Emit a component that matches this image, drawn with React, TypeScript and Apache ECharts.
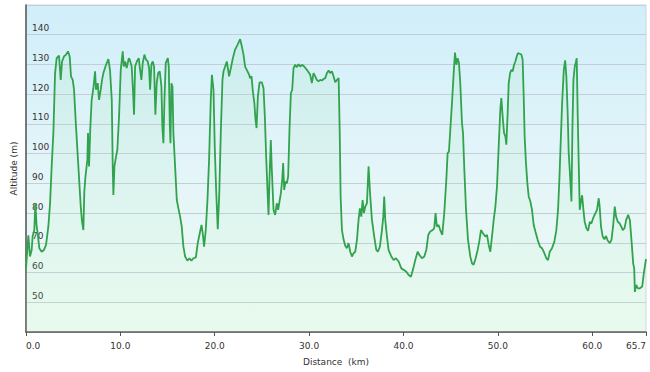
import React, { useEffect, useRef } from "react";
import * as echarts from "echarts";

const distanceKm: number[] = [
  0, 0.25, 0.42, 0.6, 0.7, 0.88, 0.99, 1.13, 1.24, 1.41, 1.66, 1.9, 2.12, 2.37, 2.55, 2.72, 2.9, 3.08, 3.25, 3.5,
  3.68, 3.82, 4.03, 4.24, 4.45, 4.63, 4.77, 4.95, 5.09, 5.3, 5.55, 5.8, 5.94, 6.08, 6.18, 6.3, 6.5, 6.57, 6.68, 6.82,
  6.96, 7.14, 7.32, 7.42, 7.6, 7.74, 7.92, 8.06, 8.2, 8.48, 8.73, 8.9, 9.09, 9.19, 9.26, 9.37, 9.54, 9.68, 9.86, 10.04,
  10.25, 10.36, 10.5, 10.67, 10.89, 11.0, 11.2, 11.35, 11.45, 11.56, 11.74, 11.95, 12.09, 12.23, 12.37, 12.55, 12.72, 12.9, 13.04, 13.15,
  13.29, 13.43, 13.57, 13.71, 13.85, 14.0, 14.17, 14.35, 14.45, 14.56, 14.67, 14.81, 15.03, 15.13, 15.24, 15.31, 15.41, 15.52, 15.62, 15.8,
  15.98, 16.15, 16.33, 16.5, 16.68, 16.86, 17.1, 17.32, 17.53, 17.74, 18.0, 18.2, 18.38, 18.6, 18.73, 18.87, 19.05, 19.23, 19.4, 19.58,
  19.7, 19.87, 20.0, 20.15, 20.32, 20.47, 20.65, 20.82, 20.93, 21.1, 21.28, 21.42, 21.52, 21.71, 21.92, 22.16, 22.41, 22.69, 22.87, 23.05,
  23.22, 23.47, 23.65, 23.75, 23.9, 24.04, 24.2, 24.32, 24.43, 24.57, 24.75, 24.99, 25.17, 25.31, 25.45, 25.59, 25.7, 25.8, 25.94, 26.05,
  26.23, 26.4, 26.58, 26.72, 26.86, 27.01, 27.15, 27.25, 27.36, 27.5, 27.64, 27.78, 27.92, 28.07, 28.21, 28.35, 28.53, 28.7, 28.88, 29.06,
  29.24, 29.48, 29.77, 29.87, 30.12, 30.29, 30.47, 30.65, 30.82, 31.0, 31.18, 31.36, 31.53, 31.71, 31.89, 32.07, 32.24, 32.42, 32.59, 32.77,
  32.95, 33.13, 33.24, 33.34, 33.48, 33.66, 33.83, 34.0, 34.18, 34.36, 34.54, 34.71, 34.89, 35.07, 35.24, 35.38, 35.53, 35.67, 35.81, 35.95,
  36.13, 36.3, 36.48, 36.66, 36.9, 37.12, 37.29, 37.5, 37.72, 37.86, 37.96, 38.07, 38.25, 38.42, 38.71, 38.96, 39.2, 39.49, 39.77, 40.02,
  40.3, 40.55, 40.79, 41.0, 41.25, 41.5, 41.7, 41.95, 42.21, 42.42, 42.63, 42.84, 43.09, 43.26, 43.4, 43.54, 43.72, 43.9, 44.11, 44.32,
  44.54, 44.68, 44.82, 44.96, 45.14, 45.32, 45.46, 45.6, 45.74, 45.88, 46.02, 46.2, 46.31, 46.45, 46.63, 46.84, 47.08, 47.26, 47.43, 47.65,
  47.86, 48.03, 48.21, 48.42, 48.67, 48.85, 49.03, 49.2, 49.38, 49.56, 49.74, 49.91, 50.09, 50.26, 50.37, 50.51, 50.66, 50.8, 50.9, 51.04,
  51.15, 51.3, 51.43, 51.57, 51.72, 51.86, 52.0, 52.14, 52.32, 52.5, 52.63, 52.74, 52.84, 52.98, 53.13, 53.27, 53.45, 53.62, 53.8, 53.98,
  54.22, 54.47, 54.68, 54.93, 55.14, 55.32, 55.5, 55.74, 55.99, 56.2, 56.38, 56.52, 56.67, 56.81, 56.99, 57.13, 57.26, 57.4, 57.51, 57.62,
  57.8, 57.9, 58.01, 58.15, 58.25, 58.36, 58.46, 58.57, 58.68, 58.78, 58.93, 59.07, 59.2, 59.38, 59.56, 59.74, 59.91, 60.12, 60.34, 60.51,
  60.69, 60.79, 60.93, 61.11, 61.29, 61.47, 61.64, 61.86, 62.04, 62.21, 62.39, 62.53, 62.71, 62.89, 63.07, 63.24, 63.42, 63.6, 63.81, 63.99,
  64.16, 64.34, 64.45, 64.52, 64.66, 64.84, 65.05, 65.3, 65.47, 65.7,
];

const altitudeM: number[] = [
  61.4, 72.5, 65.4, 67.6, 72.1, 74.3, 83.3, 75.5, 73.2, 68.2, 67, 67.6, 69.3, 75.5, 83.3, 95.7, 106.9, 127, 132.1, 133,
  124.8, 131, 132.7, 133.3, 134.4, 132.7, 126, 124.8, 121.5, 109.1, 95.7, 82.2, 77.1, 74.3, 87.3, 92.3, 97.9, 106.9, 95.7, 109.1,
  118.1, 122, 127.7, 121.5, 123.7, 118.1, 121.5, 124.8, 127.1, 129.9, 131.8, 128.2, 118.1, 95.7, 86.1, 95.7, 99, 101.3, 112.5, 128.2,
  134.4, 129.3, 131, 128.8, 132.1, 131.6, 129.3, 120.4, 113.1, 129.3, 131, 132.1, 128.2, 124.8, 130.5, 133.3, 131.6, 131, 128.8, 121.5,
  130, 131, 129.3, 113.1, 123.7, 127.1, 127.7, 122.6, 109.1, 103.5, 118.1, 130.5, 132.1, 129.3, 109.1, 103.5, 123.7, 122.6, 106.9, 95.7,
  84.4, 81.6, 78.8, 75.5, 68.7, 65.4, 64, 64.8, 64, 64.8, 65.1, 69.9, 72.7, 76, 73.2, 68.7, 74.3, 84.4, 97.9, 118.1,
  126.5, 121.5, 102.4, 87.8, 74.6, 85.6, 108, 124.8, 127.7, 129.3, 131, 128.2, 126, 128.8, 132.1, 135, 136.6, 138.5, 136.1, 133.3,
  129.3, 127.7, 126.5, 125.4, 126, 120.9, 117, 111.4, 108.6, 119.2, 124, 124, 122, 112.5, 99, 87.8, 79.4, 91.2, 104.6, 94.5,
  81.1, 79.4, 83.3, 81.1, 83.9, 86.7, 91.2, 96.8, 87.8, 90.6, 90, 92.3, 108, 120.4, 121.5, 128.8, 129.9, 129.1, 130.1, 129.3,
  129.9, 129.3, 128.2, 127.7, 126.5, 123.7, 127.1, 126, 124.8, 124.3, 124.8, 124.6, 125.1, 125.4, 127.1, 128, 127.1, 127.7, 126, 124,
  124.8, 125.4, 108, 85.6, 74.3, 71, 69, 68.2, 69.9, 67, 65.4, 66.5, 67, 71, 77.7, 81.6, 78.8, 84.4, 80, 82.2,
  83.3, 95.7, 85.6, 77.7, 72.1, 67.6, 67, 68.7, 74.3, 78.8, 85.6, 77.7, 72.1, 67.6, 65.4, 64.2, 64.8, 63.7, 61.4, 60.9,
  60.3, 59.2, 58.6, 60.9, 64.2, 67, 65.9, 64.8, 65.4, 67.6, 72.7, 73.8, 74.3, 74.9, 80, 75.5, 76, 74.3, 72.7, 80,
  91.2, 100.2, 100.7, 108, 117, 127.1, 134, 129.9, 132.1, 130.5, 123.7, 110.3, 106.9, 94.5, 81.1, 71, 65.4, 63.1, 62.6, 64.8,
  67.6, 70.4, 74.3, 73.2, 72.1, 72.7, 69.3, 67, 72.1, 77.7, 82.2, 89, 102.4, 114.7, 118.7, 112.5, 106.9, 105.8, 103, 113.6,
  123.7, 127.1, 128.2, 127.7, 129.9, 131, 132.7, 133.8, 133.6, 133.3, 131.6, 119.2, 105.8, 96.8, 90, 85.6, 83.9, 81.1, 76, 73.8,
  71, 68.7, 68.2, 66.5, 64.8, 64.2, 67, 68.2, 70.4, 74.3, 81.1, 91.2, 104.6, 117, 128.2, 131.4, 126, 113.6, 100.2, 94.5,
  83.9, 108, 124.8, 129.3, 130.5, 132.1, 113.6, 96.8, 81.1, 83.3, 86, 81.1, 77.1, 75, 74, 77, 76.5, 78.5, 80, 81.1,
  85, 82.2, 75.5, 72.1, 71.2, 72.3, 70.8, 69.9, 71, 75.5, 82.2, 78.8, 77.1, 76.6, 75.5, 74.3, 74.9, 77.7, 79.4, 77.7,
  71, 63.1, 61.4, 53.5, 55.8, 54.7, 54.7, 55.3, 59.8, 64.5,
];

const xTickValues: number[] = [0, 10, 20, 30, 40, 50, 60, 65.7];
const yLabelValues: number[] = [50, 60, 70, 80, 90, 100, 110, 120, 130, 140];

const FONT = "DejaVu Sans";

export default function App() {
  const ref = useRef<HTMLDivElement>(null);

  useEffect(() => {
    if (!ref.current) return;
    const chart = echarts.init(ref.current, null, { renderer: "svg" });
    const data = distanceKm.map((d, i) => [d, altitudeM[i]]);

    chart.setOption({
      animation: false,
      backgroundColor: "#ffffff",
      grid: {
        left: 26,
        right: 4,
        top: 5,
        bottom: 40,
        containLabel: false,
        outerBoundsMode: "none",
        show: true,
        borderColor: "#cfd6d9",
        borderWidth: 1,
        backgroundColor: new echarts.graphic.LinearGradient(0, 0, 0, 1, [
          { offset: 0, color: "#d0eefa" },
          { offset: 0.5, color: "#e4f5f9" },
          { offset: 1, color: "#eefbf1" },
        ]),
      },
      xAxis: {
        type: "value",
        min: 0,
        max: 65.7,
        name: "Distance  (km)",
        nameLocation: "middle",
        nameGap: 25,
        nameTextStyle: { fontFamily: FONT, fontSize: 9, color: "#333" },
        axisLine: { show: true, lineStyle: { color: "#555", width: 1.5 } },
        axisTick: {
          show: true,
          length: 4,
          customValues: xTickValues,
          lineStyle: { color: "#555" },
        },
        axisLabel: {
          customValues: xTickValues,
          fontFamily: FONT,
          fontSize: 9,
          color: "#333",
          margin: 9,
          alignMinLabel: "left",
          alignMaxLabel: "right",
          formatter: (v: number) => v.toFixed(1),
        },
        splitLine: { show: false },
      },
      yAxis: {
        type: "value",
        min: 40,
        max: 150,
        interval: 10,
        name: "Altitude (m)",
        nameLocation: "middle",
        nameGap: 2,
        nameTextStyle: { fontFamily: FONT, fontSize: 9, color: "#333" },
        axisLine: { show: true, lineStyle: { color: "#555", width: 1.5 } },
        axisTick: { show: false },
        axisLabel: {
          inside: true,
          margin: 6,
          fontFamily: FONT,
          fontSize: 9,
          color: "#333",
          verticalAlign: "bottom",
          padding: [0, 0, 2, 0],
          formatter: (v: number) => (yLabelValues.indexOf(v) >= 0 ? String(v) : ""),
        },
        splitLine: { show: true, lineStyle: { color: "#c3cfd4", width: 1 } },
      },
      series: [
        {
          type: "line",
          data,
          showSymbol: false,
          symbol: "none",
          smooth: false,
          lineStyle: { color: "#31a34c", width: 1.8 },
          areaStyle: {
            color: new echarts.graphic.LinearGradient(0, 0, 0, 1, [
              { offset: 0, color: "rgba(140, 220, 160, 0.2)" },
              { offset: 1, color: "rgba(190, 245, 205, 0.16)" },
            ]),
          },
          z: 3,
        },
      ],
    });

    return () => chart.dispose();
  }, []);

  return (
    <div
      ref={ref}
      style={{ position: "fixed", left: 0, top: 0, width: 650, height: 372 }}
    />
  );
}
